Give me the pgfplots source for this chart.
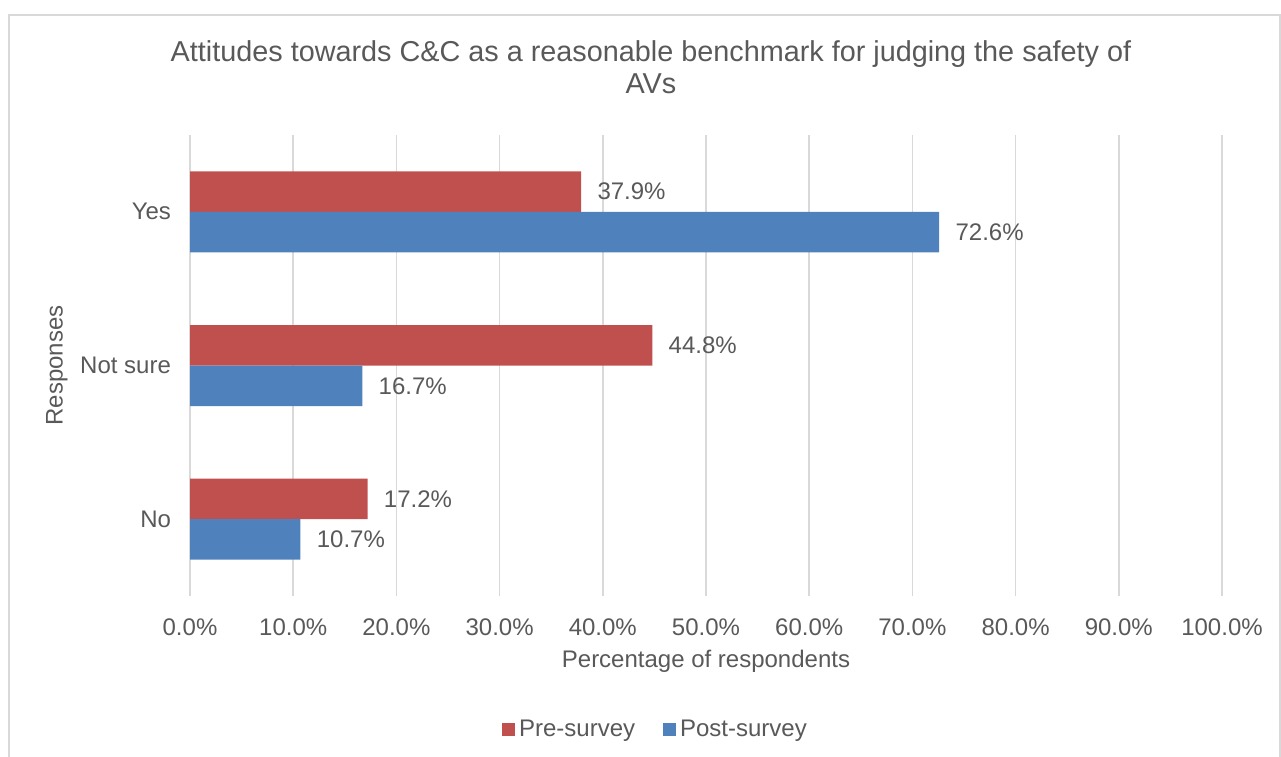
\documentclass[border=0pt]{standalone}
\usepackage{pgfplots}
\pgfplotsset{compat=1.18}
\usepackage{fontspec}
\setmainfont{Liberation Sans}
\definecolor{txt}{HTML}{595959}
\definecolor{gridc}{HTML}{D9D9D9}
\definecolor{redbar}{HTML}{C0504D}
\definecolor{bluebar}{HTML}{4F81BD}
\begin{document}
\begin{tikzpicture}
\useasboundingbox (0pt,0pt) rectangle (640.5pt,378pt);
\draw[gridc, line width=0.75pt] (4.5pt,-5pt) rectangle (640pt,370.5pt);
\node[anchor=base, text=txt, font=\fontsize{14.4}{16}\selectfont] at (325.5pt,347pt) {Attitudes towards C\&C as a reasonable benchmark for judging the safety of};
\node[anchor=base, text=txt, font=\fontsize{14.4}{16}\selectfont] at (325.5pt,331pt) {AVs};
\begin{axis}[
  at={(95pt,80pt)}, anchor=south west,
  scale only axis, width=516pt, height=230.5pt,
  xbar, bar width=20.25pt,
  xmin=0, xmax=100, ymin=-0.5, ymax=2.5,
  xtick={0,10,...,100},
  ytick={0,1,2}, yticklabels={No,Not sure,Yes},
  xmajorgrids, major grid style={gridc, line width=0.75pt},
  axis line style={draw=none},
  major tick length=0pt,
  /pgf/number format/assume math mode=true,
  xticklabel={\pgfmathprintnumber[fixed,precision=1,fixed zerofill]{\tick}\%},
  ticklabel style={text=txt, font=\fontsize{12}{14}\selectfont},
  xticklabel style={yshift=-8pt},
  yticklabel style={xshift=-6pt},
  xlabel={Percentage of respondents},
  ylabel={Responses},
  label style={text=txt, font=\fontsize{12}{14}\selectfont},
  xlabel style={at={(axis description cs:0.5,-0.141)}, anchor=center},
  ylabel style={at={(axis description cs:-0.129,0.5)}, anchor=center},
  nodes near coords={\pgfmathprintnumber[fixed,precision=1,fixed zerofill]{\pgfplotspointmeta}\%},
  point meta=x,
  every node near coord/.append style={anchor=west, inner sep=0pt, xshift=8pt, text=txt, font=\fontsize{12}{14}\selectfont},
  legend style={at={(0.452,-0.29)}, anchor=center, draw=none, legend columns=2, font=\fontsize{12}{14}\selectfont, text=txt,
    /tikz/every even column/.append style={column sep=12pt}},
  legend cell align=left,
  legend image code/.code={\fill[#1] (0pt,-3pt) rectangle (6.5pt,3.2pt);},
]
\addplot[draw=none, fill=redbar, bar shift=10.125pt] coordinates {(17.2,0) (44.8,1) (37.9,2)};
\addplot[draw=none, fill=bluebar, bar shift=-10.125pt] coordinates {(10.7,0) (16.7,1) (72.6,2)};
\legend{Pre-survey, Post-survey}
\end{axis}
\end{tikzpicture}
\end{document}
